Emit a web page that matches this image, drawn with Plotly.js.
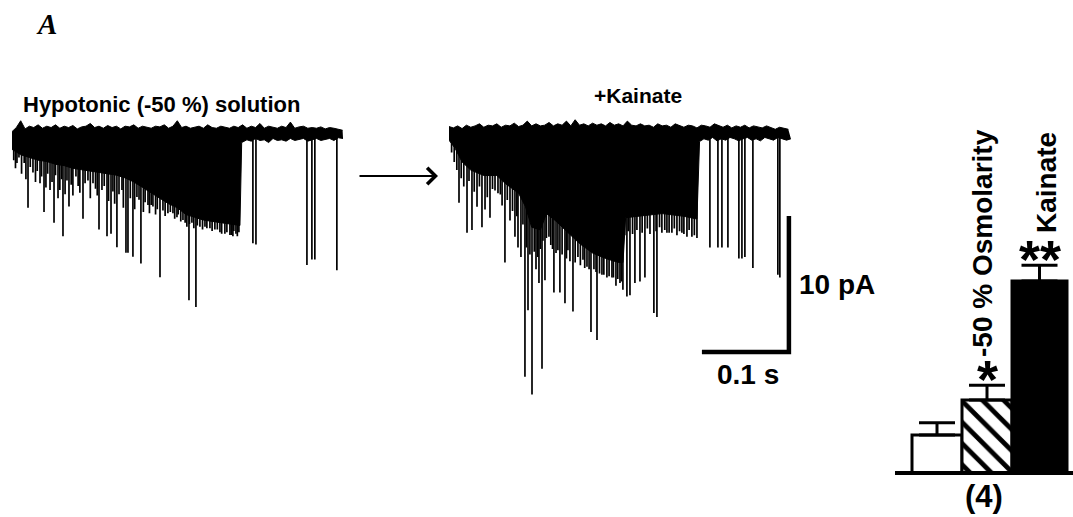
<!DOCTYPE html>
<html><head><meta charset="utf-8">
<script src="https://cdn.plot.ly/plotly-3.0.1.min.js"></script>
<style>html,body{margin:0;padding:0;background:#fff;} #chart{width:1073px;height:517px;}</style>
</head><body><div id="chart"></div>
<script>
// ---------- Trace 1: hypotonic (-50 %) solution (time in ms, current in pA) ----------
const t1_label = 'Hypotonic (-50 %) solution';
const noise_dt_ms = 5;  // sampling interval of the baseline-noise readings
const t1_top_pA = [
  0.1,0.4,0.9,0.3,0.5,0.4,0.6,0.35,0.5,0.4,
  0.6,0.35,0.5,0.4,0.55,0.3,0.45,0.5,0.7,0.4,
  0.5,0.35,0.55,0.4,0.5,0.3,0.5,0.45,0.6,0.35,
  0.5,0.4,0.35,0.5,0.45,0.6,0.35,0.5,0.9,0.4,
  0.5,0.35,0.45,0.5,0.35,0.6,0.4,0.35,0.5,0.45,
  0.35,0.5,0.4,0.6,0.35,0.5,0.4,0.7,0.35,0.5,
  0.4,0.35,0.5,0.4,0.8,0.35,0.45,0.5,0.35,0.4,
  0.35,0.45,0.3,0.4,0.35,0.3,0.2];
const t1_env_ms = [0,10,20,30,40,50,60,70,80,90,100,110,120,130,140,150,160,170,180,190,200,210,220,230,240,250,258,262,
  264,270,275,280,285,290,295,300,305,310,315,320,325,330,335,340,345,350,355,360,365,370,375,380.5];
const t1_env_pA = [-1.2,-1.6,-1.8,-2.0,-2.1,-2.3,-2.4,-2.6,-2.7,-2.8,-2.9,-3.0,-3.1,-3.3,-3.6,-4.0,-4.4,-4.8,-5.2,-5.5,-6.0,-6.2,-6.4,-6.5,-6.6,-6.7,-6.8,-6.8,
  -0.7,-0.5,-0.6,-0.4,-0.55,-0.5,-0.7,-0.4,-0.55,-0.5,-0.6,-0.4,-0.55,-0.5,-0.4,-0.6,-0.5,-0.4,-0.55,-0.5,-0.4,-0.55,-0.35,-0.4];
const t1_spk_ms = [5.7,18.4,24.1,32.2,36.8,43.7,48.3,52.9,58.6,63.2,65.5,73.5,81.6,87.3,93.1,100.0,103.4,109.2,113.8,120.6,126.4,131.0,133.3,139.0,143.6,148.2,156.3,162.0,170.1,173.5,179.2,185.0,189.6,196.5,203.4,206.8,211.4,216.0,221.8,227.5,233.2,239.0,244.7,250.5,253.9,257.4,260.8,276.9,280.4,339.0,344.7,348.1,373.4,
  2,4,8,11,14,16,21,27,29,34,39,41,46,50,55,57,61,68,70,76,78,84,90,96,98,106,111,116,118,123,128,136,141,146,151,153,158,160,165,167,176,182,187,191,194,199,201,204,209,213,219,224,230,236,241,247,252,255,259];
const t1_spk_pA = [-2.2,-5.5,-2.9,-3.7,-5.8,-4.2,-6.6,-4.8,-7.6,-3.5,-5.4,-3.2,-6.3,-3.5,-3.7,-7.1,-4.2,-7.6,-7.4,-8.4,-4.2,-8.8,-8.8,-9.1,-4.7,-9.6,-5.3,-5.4,-10.6,-5.7,-5.9,-5.9,-6.2,-6.4,-12.3,-6.6,-12.8,-6.9,-6.9,-7.0,-7.1,-7.3,-7.4,-7.5,-7.6,-7.4,-7.3,-8.1,-8.2,-9.7,-9.3,-9.3,-10.1,
  -2.0,-2.6,-1.8,-3.0,-2.2,-3.4,-2.5,-3.6,-2.8,-3.2,-4.0,-3.0,-3.6,-3.1,-4.2,-3.4,-4.5,-3.8,-4.6,-3.9,-4.4,-3.7,-4.8,-4.1,-4.6,-3.9,-5.0,-4.3,-5.2,-4.5,-5.5,-4.8,-5.6,-4.9,-5.8,-5.1,-5.9,-5.3,-6.0,-5.6,-6.1,-5.8,-6.3,-6.0,-6.5,-6.6,-6.9,-6.7,-7.0,-6.8,-7.1,-7.0,-7.2,-7.1,-7.4,-7.3,-7.5,-7.2,-7.6];

// ---------- Trace 2: + kainate ----------
const t2_label = '+Kainate';
const t2_top_pA = [
  0.4,0.3,0.45,0.25,0.5,0.35,0.45,0.6,0.35,0.5,
  0.45,0.6,0.35,0.5,0.45,0.65,0.4,0.5,0.8,0.45,
  0.6,0.45,0.5,0.7,0.45,0.6,0.5,0.8,0.45,0.9,
  0.5,0.6,0.45,0.65,0.5,0.6,0.45,0.7,0.5,0.6,
  0.45,0.8,0.5,0.45,0.6,0.45,0.5,0.35,0.6,0.45,
  0.5,0.35,0.6,0.45,0.35,0.5,0.45,0.3,0.5,0.45,
  0.35,0.6,0.45,0.35,0.5,0.3,0.45,0.35,0.5,0.3,
  0.45,0.35,0.3,0.45,0.35,0.2,0.35,0.3,0.2];
const t2_env_ms = [0,7,15,25,40,55,65,80,88,95,105,112,122,135,150,165,180,195,200,
  203,220,245,270,285,
  288,293,298,303,308,313,318,323,328,333,338,343,348,353,358,363,368,373,378,383,388,393];
const t2_env_pA = [-0.6,-1.2,-2.2,-2.8,-3.2,-3.2,-3.8,-4.5,-5.5,-7.0,-7.2,-6.0,-6.5,-7.3,-8.2,-8.9,-9.3,-9.6,-9.6,
  -6.3,-6.2,-6.0,-6.2,-6.4,
  -0.7,-0.5,-0.6,-0.4,-0.65,-0.5,-0.6,-0.4,-0.5,-0.65,-0.5,-0.4,-0.6,-0.5,-0.65,-0.4,-0.5,-0.6,-0.4,-0.5,-0.6,-0.5];
const t2_spk_ms = [11.5,20.7,26.4,32.2,37.9,41.4,47.1,52.9,56.3,64.3,70.1,75.8,79.3,82.7,87.3,90.8,95.4,100.0,103.4,106.9,110.3,114.9,120.6,125.2,127.5,133.3,136.7,142.5,148.2,154.0,158.6,163.2,166.6,170.1,175.8,181.5,187.3,191.9,196.5,199.9,204.5,208.0,213.7,219.5,225.2,235.5,239.0,244.7,250.5,256.2,262.0,267.7,273.5,279.2,285.0,299.9,309.1,313.7,320.6,333.2,336.7,340.1,349.3,378.0,380.3,
  3,6,9,14,17,23,29,35,44,50,59,61,67,73,78,85,89,93,98,102,105,108,112,117,119,123,130,135,139,145,151,156,161,169,173,178,184,189,194,198,202,206,211,216,222,228,231,238,242,248,253,259,265,270,276,282];
const t2_spk_pA = [-5.2,-7.4,-7.2,-5.5,-7.0,-5.7,-6.3,-4.3,-4.5,-9.6,-6.5,-7.7,-8.5,-9.2,-18.0,-13.1,-19.3,-10.1,-11.1,-17.4,-10.9,-7.7,-11.8,-8.7,-11.8,-12.6,-8.7,-13.2,-9.2,-9.4,-9.9,-14.7,-10.1,-15.3,-10.5,-10.7,-10.7,-11.3,-11.1,-11.6,-12.1,-12.0,-11.1,-11.0,-10.7,-13.3,-13.6,-7.4,-7.4,-7.4,-7.6,-7.4,-7.7,-7.7,-7.8,-8.5,-8.5,-8.5,-8.5,-9.3,-9.3,-9.2,-10.0,-10.5,-10.7,
  -1.5,-2.2,-2.8,-3.4,-4.0,-3.6,-4.4,-4.0,-4.8,-4.2,-4.6,-5.4,-5.0,-5.8,-6.2,-6.8,-8.5,-9.0,-8.8,-9.2,-8.6,-8.0,-7.8,-8.3,-8.6,-8.9,-9.0,-9.3,-9.5,-9.6,-9.8,-10.0,-10.1,-10.3,-10.4,-10.5,-10.6,-10.7,-10.8,-11.0,-7.6,-7.3,-7.5,-7.2,-7.4,-7.1,-7.5,-7.3,-7.0,-7.2,-7.4,-7.1,-7.3,-7.5,-7.2,-7.6];

// ---------- Scale bar ----------
const scale_ms = 100;   // 0.1 s
const scale_pA = 10;    // 10 pA
const scale_time_label = '0.1 s';
const scale_amp_label = '10 pA';

// ---------- Bar chart ----------
const bar_groups = ['Control', '-50 % Osmolarity', 'Kainate'];
const bar_values = [1.0, 1.92, 5.05];
const bar_errors = [0.32, 0.39, 0.42];
const bar_sig = ['', '*', '**'];
const bar_n = '(4)';

// ---------- layout helpers ----------
const W = 1073, H = 517;
function xdom(px0, ppu, lo, hi){ return [(px0 + lo*ppu)/W, (px0 + hi*ppu)/W]; }
function ydom(py0, ppu, lo, hi){ return [1 - (py0 - lo*ppu)/H, 1 - (py0 - hi*ppu)/H]; }
function spikes(ts, amps){
  const x = [], y = [];
  ts.forEach((t, i) => { x.push(t, t, null); y.push(0, amps[i], null); });
  return {x, y};
}
function sampleTimes(vals){ return vals.map((_, i) => i * noise_dt_ms); }
const FONT = 'Liberation Sans, Arial, sans-serif';
const ink = 'black';

const s1 = spikes(t1_spk_ms, t1_spk_pA);
const s2 = spikes(t2_spk_ms, t2_spk_pA);
const corner_ms = 390.7, corner_pA = -16.18;

function traceSet(ax, ay, topVals, envT, envV, sp){
  return [
    {x: sampleTimes(topVals), y: topVals, xaxis:ax, yaxis:ay, mode:'lines', line:{color:ink, width:1}, hoverinfo:'skip'},
    {x: envT, y: envV, xaxis:ax, yaxis:ay, mode:'lines', fill:'tonexty', fillcolor:ink, line:{color:ink, width:1}, hoverinfo:'skip'},
    {x: sp.x, y: sp.y, xaxis:ax, yaxis:ay, mode:'lines', line:{color:ink, width:1.7}, connectgaps:false, hoverinfo:'skip'}
  ];
}

const barStyles = [
  {color:'white'},
  {color:'white', pattern:{shape:'\\', fgcolor:ink, bgcolor:'white', size:15, solidity:0.32}},
  {color:ink}
];
const barWidths = [1, 1, 1.1];

const data = [].concat(
  traceSet('x', 'y', t1_top_pA, t1_env_ms, t1_env_pA, s1),
  traceSet('x2', 'y2', t2_top_pA, t2_env_ms, t2_env_pA, s2),
  [{x: [corner_ms - scale_ms, corner_ms, corner_ms], y: [corner_pA, corner_pA, corner_pA + scale_pA],
    xaxis:'x2', yaxis:'y2', mode:'lines', line:{color:ink, width:4.5}, hoverinfo:'skip'}],
  bar_values.map((v, i) => ({
    type:'bar', x:[i], y:[v], xaxis:'x3', yaxis:'y3', name: bar_groups[i],
    width:[barWidths[i]], offset:[-0.5],
    marker: Object.assign({line:{color:ink, width:3}}, barStyles[i]),
    error_y:{type:'data', symmetric:false, array:[bar_errors[i]], arrayminus:[0], color:ink, thickness:3, width:18},
    hoverinfo:'skip'
  }))
);

const hidden = {visible:false, fixedrange:true};
function txt(x, y, text, size, extra){
  return Object.assign({xref:'paper', yref:'paper', x: x/W, y: 1 - y/H, xanchor:'center', yanchor:'middle',
    text, showarrow:false, font:{family:FONT, size, weight:'bold', color:ink}}, extra || {});
}
const layout = {
  width: W, height: H, margin:{l:0, r:0, t:0, b:0},
  paper_bgcolor:'white', plot_bgcolor:'rgba(0,0,0,0)', showlegend:false,
  barmode:'overlay', bargap:0,
  xaxis: Object.assign({domain: xdom(12, 0.87, 0, 381), range:[0, 381], anchor:'y'}, hidden),
  yaxis: Object.assign({domain: ydom(133, 13.6, -14, 2), range:[-14, 2], anchor:'x'}, hidden),
  xaxis2: Object.assign({domain: xdom(449, 0.87, 0, 400), range:[0, 400], anchor:'y2'}, hidden),
  yaxis2: Object.assign({domain: ydom(132, 13.6, -20.5, 2), range:[-20.5, 2], anchor:'x2'}, hidden),
  xaxis3: Object.assign({domain: xdom(937, 50, -0.84, 2.72), range:[-0.84, 2.72], anchor:'y3'}, hidden),
  yaxis3: Object.assign({domain: ydom(473, 38, -0.2, 9.8), range:[-0.2, 9.8], anchor:'x3'}, hidden),
  shapes: [
    {type:'line', xref:'x3', yref:'y3', x0:-0.84, x1:2.72, y0:0, y1:0, line:{color:ink, width:4}}
  ],
  annotations: [
    txt(46, 24, 'A', 28, {font:{family:'Liberation Serif, Times New Roman, serif', size:29, weight:'bold', style:'italic', color:ink}}),
    txt(161.5, 105, t1_label, 22),
    txt(638, 95.5, t2_label, 21),
    {xref:'paper', yref:'paper', x:438/W, y:1-176/H, ax:-80, ay:0, axref:'pixel', ayref:'pixel', text:'',
     showarrow:true, arrowhead:4, arrowwidth:2, arrowsize:1.6, arrowcolor:ink, standoff:0},
    txt(797, 284, scale_amp_label, 28, {xanchor:'left'}),
    txt(748, 374.5, scale_time_label, 28),
    txt(984, 496.5, bar_n, 31),
    txt(983, 243, bar_groups[1], 28, {textangle:-90}),
    txt(1046, 183, bar_groups[2], 28, {textangle:-90})
  ]
};
[1, 2].forEach(i => {
  layout.annotations.push({xref:'x3', yref:'y3', x: i + (barWidths[i] - 1) / 2, y: bar_values[i] + bar_errors[i],
    xanchor:'center', yanchor:'bottom', yshift:-26, text: bar_sig[i], showarrow:false,
    font:{family:FONT, size:54, weight:'bold', color:ink}});
});

Plotly.newPlot('chart', data, layout, {staticPlot:true, displayModeBar:false});
</script>
</body></html>
